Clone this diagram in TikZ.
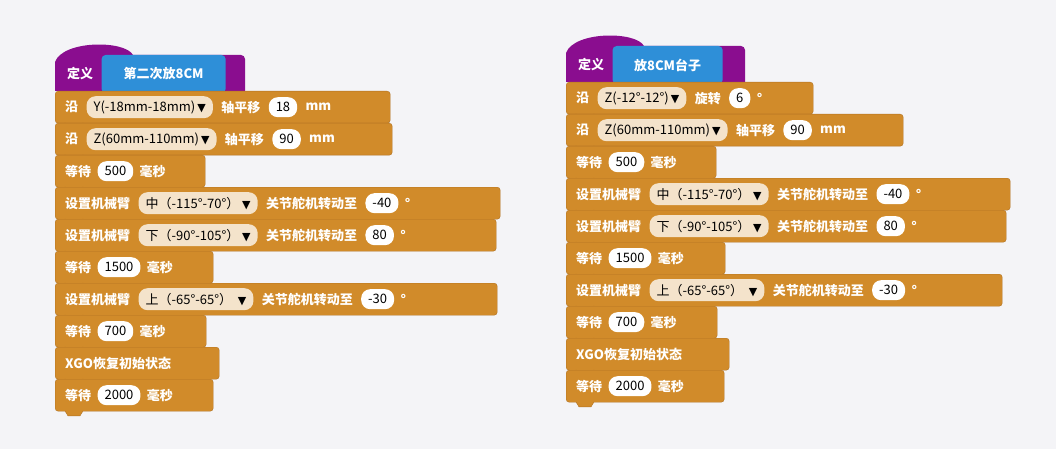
\documentclass[tikz,border=0pt]{standalone}
\usepackage{fontspec}
\setmainfont{Noto Sans CJK SC}
\newfontfamily\symfont{DejaVu Sans}
\usetikzlibrary{positioning}
\definecolor{bgcol}{HTML}{F4F4F7}
\definecolor{blkcol}{HTML}{D18B2A}
\definecolor{blkline}{HTML}{B27324}
\definecolor{hatcol}{HTML}{8A0D8F}
\definecolor{namecol}{HTML}{2E8FD8}
\definecolor{dropcol}{HTML}{F4E3CB}
\tikzset{
  blk/.style={draw=blkline, fill=blkcol, rounded corners=3, anchor=north west, minimum height=32, inner sep=0},
  lbl/.style={text=white, font=\bfseries\fontsize{13}{13}\selectfont, inner sep=2},
  field/.style={fill=white, rounded corners=9, minimum height=20, inner xsep=7, inner ysep=0, font=\fontsize{13}{13}\selectfont},
  drop/.style={fill=dropcol, rounded corners=9, minimum height=22, inner xsep=7, inner ysep=0, font=\fontsize{13}{13}\selectfont},
}
\newcommand\tri{{\symfont\fontsize{11}{11}\selectfont ▼}}
% block with its lower tab
\newcommand\blockrow[4]{%
  \node[blk, minimum width=#4] (#1) at (#2,#3) {};
  \fill[blkcol, draw=blkline] ([xshift=10,yshift=0.5]#1.south west) -- ++(3,5) -- ++(12,0) -- ++(3,-5);}
% definition hat
\newcommand\defhat[4]{%
  \fill[hatcol] (#1,#2+51) -- (#1,#2+22) .. controls (#1+8,#2) and (#1+70,#2) .. (#1+78,#2+15)
    -- (#1+#3-4,#2+15) arc (-90:0:4) -- (#1+#3,#2+51) -- cycle;
  \node[lbl, anchor=west] (#4def) at (#1+10,#2+34) {定义};}

\begin{document}
\begin{tikzpicture}[x=1pt,y=-1pt]
\useasboundingbox[fill=bgcol] (0,0) rectangle (1056,449);

% left script
\defhat{55}{40}{190}{L}
\node[fill=namecol, rounded corners=4, minimum height=38, minimum width=124, right=6 of Ldef, lbl] (Lname) {第二次放8CM};
\blockrow{l1}{55}{91}{335}
\node[lbl, right=8 of l1.west] (l1a) {沿};
\node[drop, right=6 of l1a] (l1b) {Y(-18mm-18mm)\,\tri};
\node[lbl, right=6 of l1b] (l1c) {轴平移};
\node[field, right=6 of l1c] (l1d) {18};
\node[lbl, right=6 of l1d] (l1e) {mm};
\blockrow{l2}{55}{123}{337}
\node[lbl, right=8 of l2.west] (l2a) {沿};
\node[drop, right=6 of l2a] (l2b) {Z(60mm-110mm)\,\tri};
\node[lbl, right=6 of l2b] (l2c) {轴平移};
\node[field, right=6 of l2c] (l2d) {90};
\node[lbl, right=6 of l2d] (l2e) {mm};
\blockrow{l3}{55}{155}{150}
\node[lbl, right=8 of l3.west] (l3a) {等待};
\node[field, right=4 of l3a] (l3b) {500};
\node[lbl, right=4 of l3b] (l3c) {毫秒};
\blockrow{l4}{55}{187}{445}
\node[lbl, right=8 of l4.west] (l4a) {设置机械臂};
\node[drop, right=6 of l4a] (l4b) {中（-115°-70°）\ \tri};
\node[lbl, right=6 of l4b] (l4c) {关节舵机转动至};
\node[field, right=6 of l4c] (l4d) {-40};
\node[lbl, right=4 of l4d] (l4e) {°};
\blockrow{l5}{55}{219}{441}
\node[lbl, right=8 of l5.west] (l5a) {设置机械臂};
\node[drop, right=6 of l5a] (l5b) {下（-90°-105°）\ \tri};
\node[lbl, right=6 of l5b] (l5c) {关节舵机转动至};
\node[field, right=6 of l5c] (l5d) {80};
\node[lbl, right=4 of l5d] (l5e) {°};
\blockrow{l6}{55}{251}{158}
\node[lbl, right=8 of l6.west] (l6a) {等待};
\node[field, right=4 of l6a] (l6b) {1500};
\node[lbl, right=4 of l6b] (l6c) {毫秒};
\blockrow{l7}{55}{283}{442}
\node[lbl, right=8 of l7.west] (l7a) {设置机械臂};
\node[drop, right=6 of l7a] (l7b) {上（-65°-65°）\ \ \tri};
\node[lbl, right=6 of l7b] (l7c) {关节舵机转动至};
\node[field, right=6 of l7c] (l7d) {-30};
\node[lbl, right=4 of l7d] (l7e) {°};
\blockrow{l8}{55}{315}{151}
\node[lbl, right=8 of l8.west] (l8a) {等待};
\node[field, right=4 of l8a] (l8b) {700};
\node[lbl, right=4 of l8b] (l8c) {毫秒};
\blockrow{l9}{55}{347}{164}
\node[lbl, right=8 of l9.west] (l9a) {XGO恢复初始状态};
\blockrow{l10}{55}{379}{158}
\node[lbl, right=8 of l10.west] (l10a) {等待};
\node[field, right=4 of l10a] (l10b) {2000};
\node[lbl, right=4 of l10b] (l10c) {毫秒};

% right script
\defhat{566}{31}{179}{R}
\node[fill=namecol, rounded corners=4, minimum height=38, minimum width=110, right=6 of Rdef, lbl] (Rname) {放8CM台子};
\blockrow{r1}{566}{82}{247}
\node[lbl, right=8 of r1.west] (r1a) {沿};
\node[drop, right=6 of r1a] (r1b) {Z(-12°-12°)\,\tri};
\node[lbl, right=6 of r1b] (r1c) {旋转};
\node[field, right=6 of r1c] (r1d) {6};
\node[lbl, right=4 of r1d] (r1e) {°};
\blockrow{r2}{566}{114}{337}
\node[lbl, right=8 of r2.west] (r2a) {沿};
\node[drop, right=6 of r2a] (r2b) {Z(60mm-110mm)\,\tri};
\node[lbl, right=6 of r2b] (r2c) {轴平移};
\node[field, right=6 of r2c] (r2d) {90};
\node[lbl, right=6 of r2d] (r2e) {mm};
\blockrow{r3}{566}{146}{150}
\node[lbl, right=8 of r3.west] (r3a) {等待};
\node[field, right=4 of r3a] (r3b) {500};
\node[lbl, right=4 of r3b] (r3c) {毫秒};
\blockrow{r4}{566}{178}{444}
\node[lbl, right=8 of r4.west] (r4a) {设置机械臂};
\node[drop, right=6 of r4a] (r4b) {中（-115°-70°）\ \tri};
\node[lbl, right=6 of r4b] (r4c) {关节舵机转动至};
\node[field, right=6 of r4c] (r4d) {-40};
\node[lbl, right=4 of r4d] (r4e) {°};
\blockrow{r5}{566}{210}{440}
\node[lbl, right=8 of r5.west] (r5a) {设置机械臂};
\node[drop, right=6 of r5a] (r5b) {下（-90°-105°）\ \tri};
\node[lbl, right=6 of r5b] (r5c) {关节舵机转动至};
\node[field, right=6 of r5c] (r5d) {80};
\node[lbl, right=4 of r5d] (r5e) {°};
\blockrow{r6}{566}{242}{159}
\node[lbl, right=8 of r6.west] (r6a) {等待};
\node[field, right=4 of r6a] (r6b) {1500};
\node[lbl, right=4 of r6b] (r6c) {毫秒};
\blockrow{r7}{566}{274}{436}
\node[lbl, right=8 of r7.west] (r7a) {设置机械臂};
\node[drop, right=6 of r7a] (r7b) {上（-65°-65°）\ \ \tri};
\node[lbl, right=6 of r7b] (r7c) {关节舵机转动至};
\node[field, right=6 of r7c] (r7d) {-30};
\node[lbl, right=4 of r7d] (r7e) {°};
\blockrow{r8}{566}{306}{151}
\node[lbl, right=8 of r8.west] (r8a) {等待};
\node[field, right=4 of r8a] (r8b) {700};
\node[lbl, right=4 of r8b] (r8c) {毫秒};
\blockrow{r9}{566}{338}{163}
\node[lbl, right=8 of r9.west] (r9a) {XGO恢复初始状态};
\blockrow{r10}{566}{370}{158}
\node[lbl, right=8 of r10.west] (r10a) {等待};
\node[field, right=4 of r10a] (r10b) {2000};
\node[lbl, right=4 of r10b] (r10c) {毫秒};
\end{tikzpicture}
\end{document}
